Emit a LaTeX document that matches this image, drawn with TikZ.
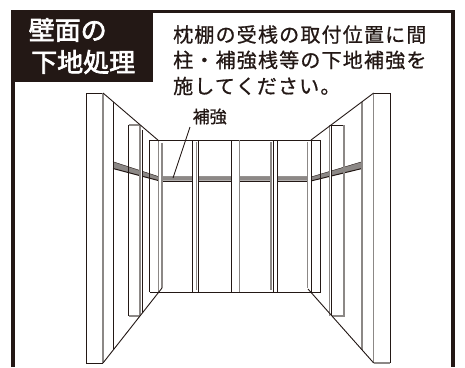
\documentclass[tikz,border=0pt]{standalone}
\usepackage{fontspec}
\newfontfamily\cjkmed[FakeBold=0.8]{Noto Sans CJK JP}
\newfontfamily\cjktitle[FakeBold=2.6]{Noto Sans CJK JP}
\definecolor{ink}{HTML}{231815}
\definecolor{stud}{HTML}{8C8886}
\tikzset{
  line/.style={draw=ink,line width=0.8pt},
  diag/.style={draw=ink,line width=0.9pt},
  gline/.style={draw=stud,line width=1.1pt},
  body/.style={font=\cjkmed\fontsize{20}{20}\selectfont,text=ink,anchor=west,inner sep=0pt},
  title/.style={font=\cjktitle\fontsize{26}{26}\selectfont,text=white,anchor=west,inner sep=0pt},
}
\begin{document}
\begin{tikzpicture}[x=1pt,y=-1pt]
\useasboundingbox (0,0) rectangle (465,367);
\fill[white] (0,0) rectangle (465,367);
% frame
\draw[ink,line width=3.4pt] (12.8,367) -- (12.8,11.7) -- (453,11.7) -- (453,367);
\fill[ink] (11,10) rectangle (153,82);
\node[title] (t1) at (28.5,30) {壁面の};
\node[title] (t2) at (31,62) {下地処理};
\node[body] (b1) at (173,34.5) {\addfontfeature{LetterSpace=6}枕棚の受桟の取付位置に間};
\node[body] (b2) at (173,60) {\addfontfeature{LetterSpace=6}柱・補強桟等の下地補強を};
\node[body] (b3) at (173,86) {\addfontfeature{LetterSpace=6}施してください。};
% beam
\fill[stud] (113,161.7) -- (159,176.7) -- (312,176.7) -- (362,161.7) -- (362,168.5) -- (312,180.7) -- (159,180.7) -- (113,168.5) -- cycle;
\draw[ink,line width=0.4pt] (113,161.7) -- (159,176.7) -- (312,176.7) -- (362,161.7);
\draw[ink,line width=1pt] (113,168.5) -- (159,180.7);
\draw[ink,line width=1pt] (312,180.7) -- (362,168.5);
\draw[ink,line width=0.4pt] (159,180.7) -- (312,180.7);
% white strips where the studs cover the beam
\fill[white] (140.3,155) rectangle (142.5,185);
\fill[white] (159,170) rectangle (162,185);
\fill[white] (192.5,170) rectangle (198,185);
\fill[white] (231,170) rectangle (239.5,185);
\fill[white] (271,170) rectangle (277.5,185);
\fill[white] (308,170) rectangle (311.3,185);
\fill[white] (329.3,155) rectangle (331.7,185);
% left side
\draw[line] (103,93) -- (86.5,93) -- (86.5,363) -- (103,363);
\draw[gline] (103,93) -- (103,363);
\draw[line] (113,102) -- (113,350);
\draw[line] (128.5,125) -- (128.5,316);
\draw[gline] (128.5,125) -- (140,125) (128.5,316) -- (140,316);
\draw[gline] (140,125) -- (140,316);
\draw[line] (142.5,130) -- (142.5,313);
\draw[line] (149.5,140) -- (149.5,292);
\draw[gline] (158.5,140) -- (158.5,292);
\draw[gline] (162,143) -- (162,288);
% back wall
\draw[line] (149.5,140) -- (320.7,140) (149.5,292) -- (320.7,292);
\draw[line] (192.5,140) -- (192.5,292);
\draw[gline] (196.5,142) -- (196.5,290);
\draw[line] (198,140) -- (198,292);
\draw[line] (231,140) -- (231,292);
\draw[gline] (239.5,140) -- (239.5,292);
\draw[gline] (271,142) -- (271,290);
\draw[line] (273.5,140) -- (273.5,292);
\draw[line] (277.5,140) -- (277.5,292);
\draw[gline] (307.7,142) -- (307.7,288);
\draw[line] (311.3,140) -- (311.3,292);
\draw[line] (320.7,140) -- (320.7,292);
% right side
\draw[gline] (329.3,125) -- (329.3,316);
\draw[line] (331.7,125) -- (331.7,316);
\draw[line] (331.7,125) -- (344,125);
\draw[gline] (331.7,316) -- (344,316) -- (344,125);
\draw[gline] (362,102) -- (362,350);
\draw[gline] (373.7,93) -- (373.7,363);
\draw[line] (373.7,93) -- (390.3,93) -- (390.3,363);
\draw[gline] (373.7,363) -- (390.3,363);
% diagonals
\draw[diag] (103,93) -- (159,141);
\draw[diag] (373.7,93) -- (311,140);
\draw[diag] (103,363) -- (162,288);
\draw[diag] (373.7,363) -- (308,289);
% label and leader
\node[font=\cjkmed\fontsize{17}{17}\selectfont,text=ink,inner sep=0pt] (lab) at (209.7,116.5) {補強};
\coordinate (tip) at (173,178);
\draw[line] (190,127) -- (tip);
\end{tikzpicture}
\end{document}
